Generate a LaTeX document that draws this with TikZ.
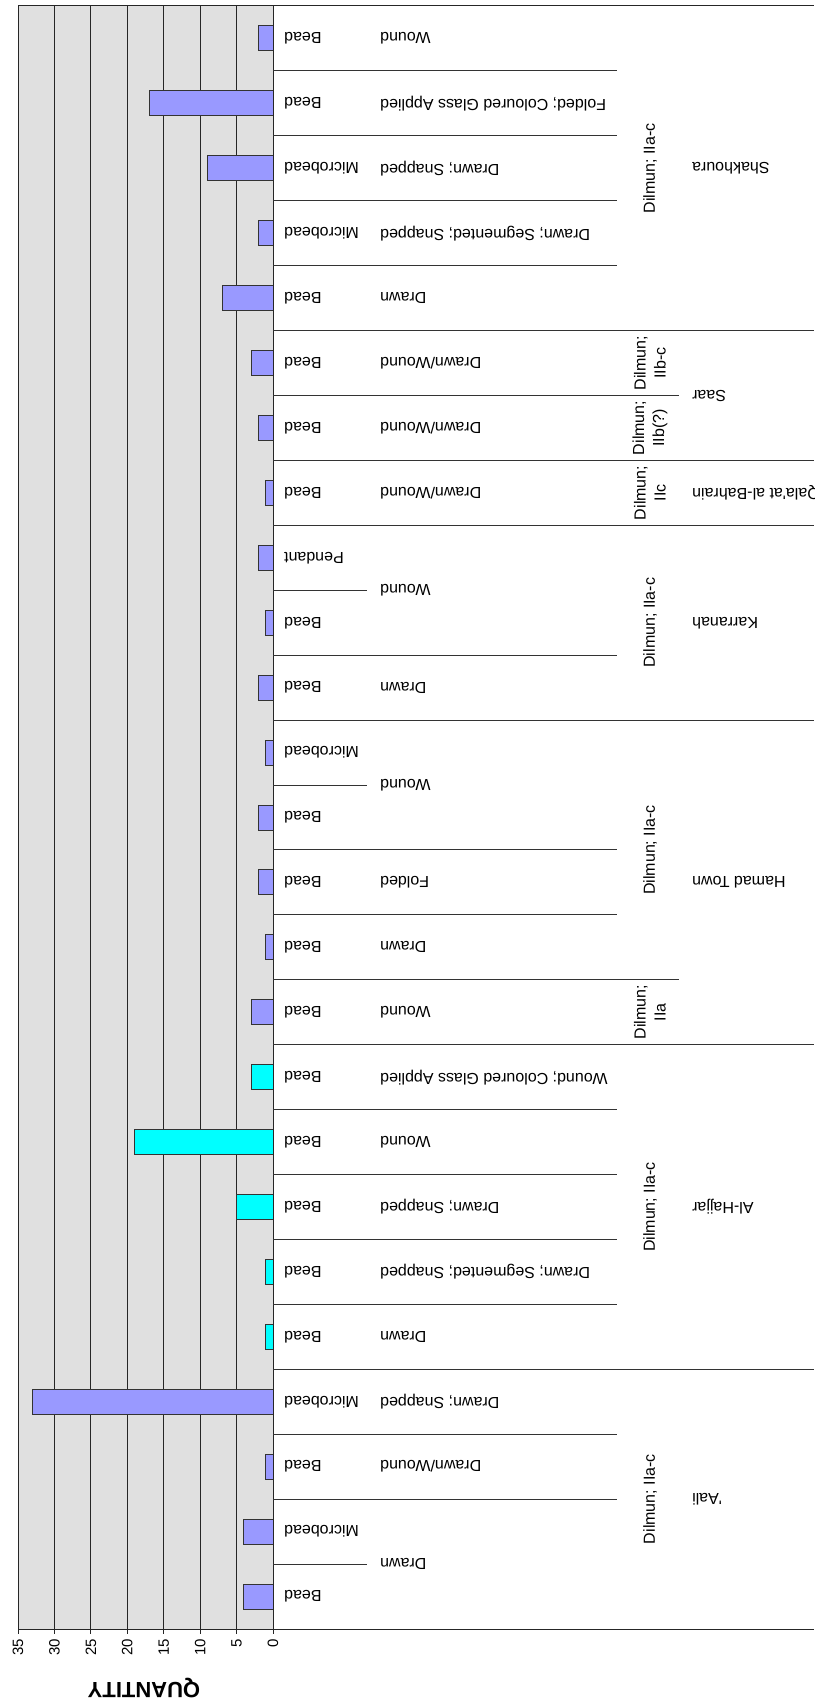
\documentclass[tikz,border=0pt]{standalone}
\usepackage{fontspec}
\newfontfamily\lab{Liberation Sans}
\definecolor{plotbg}{RGB}{224,224,224}
\definecolor{barblue}{RGB}{153,153,255}
\definecolor{barcyan}{RGB}{0,255,255}
\begin{document}
\begin{tikzpicture}[x=1pt,y=-1pt,
  axisline/.style={draw=black!85,line width=1pt},
  gridline/.style={draw=black!85,line width=1pt},
  barbox/.style={draw=black!80,line width=1pt},
  sepline/.style={draw=black!80,line width=1pt},
  lbl/.style={font=\lab\fontsize{16}{20}\selectfont,inner sep=0pt},
  catlbl/.style={lbl,rotate=180,anchor=east},
  perlbl/.style={lbl,rotate=90,anchor=center,align=center},
  ticklbl/.style={font=\lab\fontsize{15}{17}\selectfont,inner sep=0pt,rotate=90,anchor=east}]
\useasboundingbox (0,0) rectangle (814,1704);
\fill[white] (0,0) rectangle (814,1704);
% plot area
\fill[plotbg] (18,6) rectangle (273,1629);
\foreach \g in {1,...,6} \draw[gridline] ({273-\g*255/7},6) -- ({273-\g*255/7},1629);
% bars
\foreach \r/\v in {0/2,1/17,2/9,3/2,4/7,5/3,6/2,7/1,8/2,9/1,10/2,11/1,12/2,13/2,14/1,15/3,21/33,22/1,23/4,24/4}
  \draw[barbox,fill=barblue] (273,{6+(\r+0.5)*64.92-12.5}) rectangle ({273-\v*255/35},{6+(\r+0.5)*64.92+12.5});
\foreach \r/\v in {16/3,17/19,18/5,19/1,20/1}
  \draw[barbox,fill=barcyan] (273,{6+(\r+0.5)*64.92-12.5}) rectangle ({273-\v*255/35},{6+(\r+0.5)*64.92+12.5});
% frame and axes
\draw[axisline] (18,1629) -- (18,6) -- (814,6);
\draw[axisline] (273,6) -- (273,1629);
\draw[axisline] (18,1629) -- (814,1629);
% category separators
\foreach \k/\xe in {1/617,2/617,3/617,4/617,5/814,6/679,7/814,8/814,9/367,10/617,11/814,12/367,13/617,14/617,15/679,16/814,17/617,18/617,19/617,20/617,21/814,22/617,23/617,24/367}
  \draw[sepline] (273,{6+\k*64.92}) -- (\xe,{6+\k*64.92});
% value axis ticks and labels
\foreach \g in {0,...,7} {
  \draw[axisline] ({273-\g*255/7},1629) -- ({273-\g*255/7},1634);
  \pgfmathtruncatemacro{\tv}{5*\g}
  \node[ticklbl] (tk\g) at ({273-\g*255/7},1639) {\tv};
}
\node[font=\lab\bfseries\fontsize{22}{24}\selectfont,inner sep=0pt,rotate=180] (ytitle) at (144,1688) {QUANTITY};
% level 1 labels
\node[catlbl] (a0) at (284,38.46) {Bead};
\node[catlbl] (a1) at (284,103.38) {Bead};
\node[catlbl] (a2) at (284,168.30) {Microbead};
\node[catlbl] (a3) at (284,233.22) {Microbead};
\node[catlbl] (a4) at (284,298.14) {Bead};
\node[catlbl] (a5) at (284,363.06) {Bead};
\node[catlbl] (a6) at (284,427.98) {Bead};
\node[catlbl] (a7) at (284,492.90) {Bead};
\node[catlbl] (a8) at (284,557.82) {Pendant};
\node[catlbl] (a9) at (284,622.74) {Bead};
\node[catlbl] (a10) at (284,687.66) {Bead};
\node[catlbl] (a11) at (284,752.58) {Microbead};
\node[catlbl] (a12) at (284,817.50) {Bead};
\node[catlbl] (a13) at (284,882.42) {Bead};
\node[catlbl] (a14) at (284,947.34) {Bead};
\node[catlbl] (a15) at (284,1012.26) {Bead};
\node[catlbl] (a16) at (284,1077.18) {Bead};
\node[catlbl] (a17) at (284,1142.10) {Bead};
\node[catlbl] (a18) at (284,1207.02) {Bead};
\node[catlbl] (a19) at (284,1271.94) {Bead};
\node[catlbl] (a20) at (284,1336.86) {Bead};
\node[catlbl] (a21) at (284,1401.78) {Microbead};
\node[catlbl] (a22) at (284,1466.70) {Bead};
\node[catlbl] (a23) at (284,1531.62) {Microbead};
\node[catlbl] (a24) at (284,1596.54) {Bead};
% level 2 labels
\node[catlbl] (b0) at (380,38.46) {Wound};
\node[catlbl] (b1) at (380,103.38) {Folded; Coloured Glass Applied};
\node[catlbl] (b2) at (380,168.30) {Drawn; Snapped};
\node[catlbl] (b3) at (380,233.22) {Drawn; Segmented; Snapped};
\node[catlbl] (b4) at (380,298.14) {Drawn};
\node[catlbl] (b5) at (380,363.06) {Drawn/Wound};
\node[catlbl] (b6) at (380,427.98) {Drawn/Wound};
\node[catlbl] (b7) at (380,492.90) {Drawn/Wound};
\node[catlbl] (b8) at (380,590.28) {Wound};
\node[catlbl] (b10) at (380,687.66) {Drawn};
\node[catlbl] (b11) at (380,785.04) {Wound};
\node[catlbl] (b13) at (380,882.42) {Folded};
\node[catlbl] (b14) at (380,947.34) {Drawn};
\node[catlbl] (b15) at (380,1012.26) {Wound};
\node[catlbl] (b16) at (380,1077.18) {Wound; Coloured Glass Applied};
\node[catlbl] (b17) at (380,1142.10) {Wound};
\node[catlbl] (b18) at (380,1207.02) {Drawn; Snapped};
\node[catlbl] (b19) at (380,1271.94) {Drawn; Segmented; Snapped};
\node[catlbl] (b20) at (380,1336.86) {Drawn};
\node[catlbl] (b21) at (380,1401.78) {Drawn; Snapped};
\node[catlbl] (b22) at (380,1466.70) {Drawn/Wound};
\node[catlbl] (b23) at (380,1564.08) {Drawn};
% level 3 labels
\node[perlbl] (p0) at (650,168.30) {Dilmun; IIa-c};
\node[perlbl] (p5) at (650,363.06) {Dilmun;\\IIb-c};
\node[perlbl] (p6) at (650,427.98) {Dilmun;\\IIb(?)};
\node[perlbl] (p7) at (650,492.90) {Dilmun;\\IIc};
\node[perlbl] (p8) at (650,622.74) {Dilmun; IIa-c};
\node[perlbl] (p11) at (650,849.96) {Dilmun; IIa-c};
\node[perlbl] (p15) at (650,1012.26) {Dilmun;\\IIa};
\node[perlbl] (p16) at (650,1207.02) {Dilmun; IIa-c};
\node[perlbl] (p21) at (650,1499.16) {Dilmun; IIa-c};
% level 4 labels
\node[catlbl] (s0) at (692,168.30) {Shakhoura};
\node[catlbl] (s1) at (692,395.52) {Saar};
\node[catlbl] (s2) at (692,492.90) {Qala'at al-Bahrain};
\node[catlbl] (s3) at (692,622.74) {Karranah};
\node[catlbl] (s4) at (692,882.42) {Hamad Town};
\node[catlbl] (s5) at (692,1207.02) {Al-Hajjar};
\node[catlbl] (s6) at (692,1499.16) {'Aali};
\end{tikzpicture}
\end{document}
